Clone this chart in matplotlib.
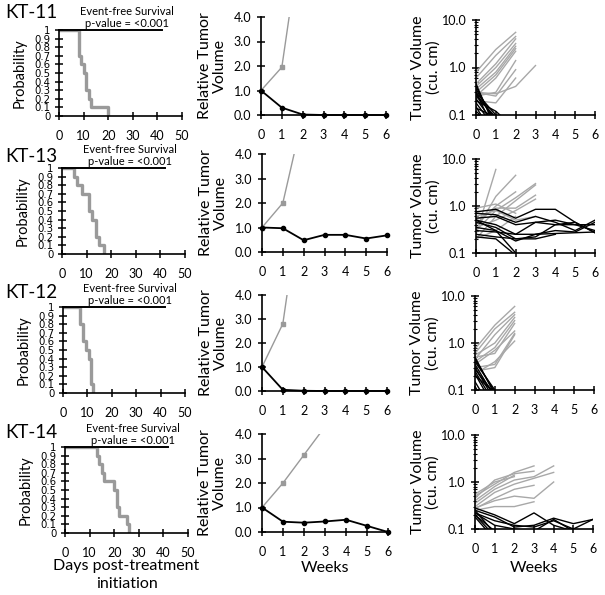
import matplotlib
matplotlib.use("Agg")
import matplotlib.pyplot as plt
from matplotlib.ticker import FormatStrFormatter, NullFormatter, LogLocator

plt.rcParams['font.family'] = ['Lato', 'DejaVu Sans']

W, H = 605, 595

# ---------------- data ----------------
models = ["KT-11", "KT-13", "KT-12", "KT-14"]

# Kaplan-Meier, event-free survival (treated arm, days)
km_t_kt11 = [0, 8, 9, 10, 11, 12, 13, 20]
km_s_kt11 = [1, 0.7, 0.6, 0.5, 0.3, 0.2, 0.1, 0]
km_t_kt13 = [0, 5, 6, 8, 11, 12, 14, 15, 17]
km_s_kt13 = [1, 0.9, 0.8, 0.7, 0.5, 0.4, 0.2, 0.1, 0]
km_t_kt12 = [0, 7, 8, 9.5, 10.5, 11.5, 12.3]
km_s_kt12 = [1, 0.8, 0.6, 0.5, 0.4, 0.1, 0]
km_t_kt14 = [0, 13, 14, 15, 16, 20, 21, 22, 25, 26]
km_s_kt14 = [1, 0.9, 0.8, 0.7, 0.6, 0.5, 0.3, 0.2, 0.1, 0]
km_control_end = [42, 42, 42, 42]

# relative tumor volume (weeks)
weeks = [0, 1, 2, 3, 4, 5, 6]
rel_treated_kt11 = [1.0, 0.3, 0.02, 0.0, 0.0, 0.0, 0.0]
rel_control_kt11 = [1.0, 1.95, 7.8]
rel_treated_kt13 = [1.0, 0.97, 0.48, 0.7, 0.7, 0.55, 0.68]
rel_control_kt13 = [1.0, 2.0, 5.7]
rel_treated_kt12 = [1.0, 0.05, 0.01, 0.0, 0.0, 0.0, 0.0]
rel_control_kt12 = [1.0, 2.8, 8.8]
rel_treated_kt14 = [1.0, 0.42, 0.38, 0.43, 0.5, 0.25, 0.0]
rel_control_kt14 = [1.0, 2.0, 3.15, 4.3]

# individual tumor volumes (cu. cm), one list per mouse, starting at week 0
ind_control_kt11 = [
    [0.8, 2.4, 5.5], [0.6, 1.8, 4.5], [0.45, 1.2, 4.0], [0.4, 1.0, 3.2],
    [0.35, 0.8, 2.8], [0.3, 0.7, 2.5], [0.25, 0.6, 2.2], [0.25, 0.3, 1.4],
    [0.3, 0.25, 0.9], [0.3, 0.28, 0.4, 1.1], [0.2, 0.18, 0.6],
]
ind_treated_kt11 = [
    [0.45, 0.05], [0.4, 0.06], [0.35, 0.07], [0.3, 0.04], [0.28, 0.08],
    [0.25, 0.09], [0.22, 0.06], [0.2, 0.12, 0.05], [0.18, 0.05],
    [0.15, 0.03], [0.14, 0.09], [0.12, 0.05], [0.3, 0.1, 0.04],
]
ind_control_kt13 = [
    [0.25, 6.0], [0.3, 1.6, 4.5], [0.4, 1.0, 2.0], [0.2, 0.6, 1.3, 2.8],
    [0.3, 0.8, 1.5, 3.0], [0.5, 0.9, 0.9, 1.7], [0.35, 0.5, 0.8, 1.4],
    [0.6, 0.8, 0.5, 0.6], [0.2, 0.3, 0.6], [0.9, 1.1, 0.7],
]
ind_treated_kt13 = [
    [0.75, 0.85, 0.55, 0.85, 0.85, 0.45, 0.27],
    [0.7, 0.65, 0.45, 0.6, 0.45, 0.3, 0.5],
    [0.55, 0.6, 0.4, 0.45, 0.5, 0.4, 0.3],
    [0.5, 0.4, 0.25, 0.45, 0.4, 0.4, 0.4],
    [0.45, 0.35, 0.2, 0.22, 0.4, 0.45, 0.27],
    [0.35, 0.3, 0.18, 0.25, 0.3, 0.28, 0.45],
    [0.3, 0.28, 0.25, 0.25, 0.26, 0.27, 0.28],
    [0.25, 0.22, 0.2, 0.2, 0.25],
    [0.22, 0.2, 0.09],
    [0.5, 0.3, 0.1, 0.05],
]
ind_control_kt12 = [
    [0.75, 2.4, 6.0], [0.6, 2.0, 4.5], [0.45, 1.5, 4.0], [0.55, 1.0, 3.5],
    [0.4, 0.8, 3.0], [0.5, 0.6, 2.6], [0.35, 0.7, 1.8], [0.3, 0.35, 1.6],
    [0.25, 0.3, 1.5], [0.22, 0.4, 1.1],
]
ind_treated_kt12 = [
    [0.5, 0.08], [0.45, 0.09], [0.4, 0.1, 0.05], [0.35, 0.07], [0.3, 0.06],
    [0.28, 0.08], [0.25, 0.05], [0.22, 0.04], [0.2, 0.09], [0.15, 0.03],
    [0.12, 0.02],
]
ind_control_kt14 = [
    [0.5, 0.9, 1.6, 2.2], [0.45, 1.1, 1.5, 1.7], [0.4, 0.8, 1.4],
    [0.35, 0.7, 1.1, 1.3, 2.2], [0.3, 0.6, 0.9, 1.2, 1.6],
    [0.28, 0.4, 0.5, 0.45, 1.0], [0.27, 0.45, 0.7, 0.85],
    [0.25, 0.3, 0.3, 0.38], [0.55, 1.0, 1.3],
]
ind_treated_kt14 = [
    [0.28, 0.2, 0.13, 0.22, 0.12, 0.09],
    [0.25, 0.18, 0.11, 0.12, 0.17, 0.13, 0.16],
    [0.22, 0.15, 0.12, 0.11, 0.15, 0.1, 0.16],
    [0.22, 0.12, 0.1, 0.09, 0.16, 0.09],
    [0.2, 0.09], [0.25, 0.08], [0.2, 0.07], [0.18, 0.06],
]

km_t = [km_t_kt11, km_t_kt13, km_t_kt12, km_t_kt14]
km_s = [km_s_kt11, km_s_kt13, km_s_kt12, km_s_kt14]
rel_treated = [rel_treated_kt11, rel_treated_kt13, rel_treated_kt12, rel_treated_kt14]
rel_control = [rel_control_kt11, rel_control_kt13, rel_control_kt12, rel_control_kt14]
ind_control = [ind_control_kt11, ind_control_kt13, ind_control_kt12, ind_control_kt14]
ind_treated = [ind_treated_kt11, ind_treated_kt13, ind_treated_kt12, ind_treated_kt14]

# ---------------- layout (pixel boxes x0, x1, ytop, ybottom) ----------------
km_box = [(59, 182, 30, 116), (62, 185, 168, 254), (63, 185, 307, 393), (65, 188, 447, 533)]
rel_box = [(261, 386, 17, 115), (262, 387, 154, 252), (262, 387, 295, 391), (262, 388, 434, 532)]
ind_box = [(476, 595, 20, 115), (476, 595, 159, 253), (475, 594, 296, 390), (475, 593, 435, 529)]
title_y = [13, 157, 292, 432]


def pix_axes(fig, b):
    x0, x1, y0, y1 = b
    return fig.add_axes([x0 / W, 1 - y1 / H, (x1 - x0) / W, (y1 - y0) / H])


def style(ax):
    for s in ["top", "right"]:
        ax.spines[s].set_visible(False)
    for s in ["left", "bottom"]:
        ax.spines[s].set_linewidth(1.2)
    ax.tick_params(which="major", direction="inout", length=6, width=1.1,
                   labelsize=9, colors="black")
    ax.tick_params(axis="x", pad=7)
    ax.tick_params(axis="y", pad=4)
    ax.patch.set_alpha(0)


fig = plt.figure(figsize=(W / 100, H / 100), dpi=100)

gray = "#9a9a9a"
narrow = ['Liberation Sans Narrow', 'DejaVu Sans Condensed', 'DejaVu Sans']

for i in range(4):
    # --- Kaplan-Meier ---
    ax = pix_axes(fig, km_box[i])
    style(ax)
    ax.step(km_t[i], km_s[i], where="post", color=gray, lw=2.4, zorder=2)
    ax.plot([0, km_control_end[i]], [1, 1], color="black", lw=1.4, zorder=3, clip_on=False)
    ax.set_xlim(0, 50)
    ax.set_ylim(0, 1)
    ax.set_xticks([0, 10, 20, 30, 40, 50])
    ax.set_yticks([j / 10 for j in range(11)])
    ax.set_yticklabels(["0"] + ["0.%d" % j for j in range(1, 10)] + ["1"],
                       family=narrow, fontsize=7.3)
    ax.tick_params(axis="y", pad=3, length=6)
    ax.set_ylabel("Probability", fontsize=10.5, va="center")
    ax.yaxis.set_label_coords(-0.32, 0.5)
    ax.text(0.55, 1.22, "Event-free Survival", transform=ax.transAxes,
            ha="center", va="center", fontsize=8)
    ax.text(0.55, 1.08, "p-value = <0.001", transform=ax.transAxes,
            ha="center", va="center", fontsize=8)
    fig.text(5 / W, 1 - title_y[i] / H, models[i], fontsize=13.5, va="center", ha="left")
    if i == 3:
        ax.set_xlabel("Days post-treatment\ninitiation", fontsize=11.5,
                      va="center", linespacing=1.3)
        ax.xaxis.set_label_coords(0.5, -0.49)

    # --- relative tumor volume ---
    ax = pix_axes(fig, rel_box[i])
    style(ax)
    ax.plot(weeks[:len(rel_control[i])], rel_control[i], color=gray, lw=1.0,
            marker="s", ms=2.5)
    ax.plot(weeks, rel_treated[i], color="black", lw=1.3, marker="o", ms=3,
            clip_on=False, zorder=3)
    ax.set_xlim(0, 6)
    ax.set_ylim(0, 4)
    ax.set_xticks(weeks)
    ax.set_yticks([0, 1, 2, 3, 4])
    ax.yaxis.set_major_formatter(FormatStrFormatter("%.1f"))
    ax.set_ylabel("Relative Tumor\nVolume", fontsize=11.5, va="center", linespacing=1.1)
    ax.yaxis.set_label_coords(-0.39, 0.5)
    if i == 3:
        ax.set_xlabel("Weeks", fontsize=11.5, va="center")
        ax.xaxis.set_label_coords(0.5, -0.37)

    # --- individual tumor volumes ---
    ax = pix_axes(fig, ind_box[i])
    style(ax)
    for v in ind_control[i]:
        ax.plot(weeks[:len(v)], v, color="#a8a8a8", lw=1.0)
    for v in ind_treated[i]:
        ax.plot(weeks[:len(v)], v, color="black", lw=1.0)
    ax.set_yscale("log")
    ax.set_xlim(0, 6)
    ax.set_ylim(0.1, 10)
    ax.set_xticks(weeks)
    ax.set_yticks([0.1, 1, 10])
    ax.set_yticklabels(["0.1", "1.0", "10.0"])
    ax.yaxis.set_minor_locator(LogLocator(base=10, subs=range(2, 10)))
    ax.yaxis.set_minor_formatter(NullFormatter())
    ax.tick_params(which="minor", direction="inout", length=3, width=0.8)
    ax.set_ylabel("Tumor Volume\n(cu. cm)", fontsize=11.5, va="center", linespacing=1.1)
    ax.yaxis.set_label_coords(-0.42, 0.5)
    if i == 3:
        ax.set_xlabel("Weeks", fontsize=11.5, va="center")
        ax.xaxis.set_label_coords(0.5, -0.41)

fig.savefig("out.png", dpi=100)
